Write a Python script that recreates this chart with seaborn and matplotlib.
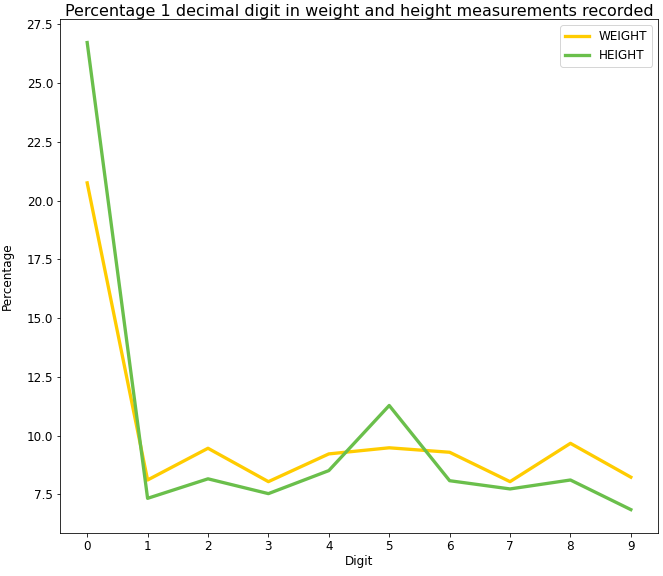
import numpy as np
import pandas as pd
import matplotlib
matplotlib.use("Agg")
import matplotlib.pyplot as plt
import seaborn as sns

digits = list(range(10))
weight_pct = [20.75, 8.11, 9.46, 8.04, 9.22, 9.48, 9.29, 8.04, 9.67, 8.23]
height_pct = [26.72, 7.33, 8.16, 7.53, 8.51, 11.28, 8.08, 7.73, 8.11, 6.85]
series_names = ["WEIGHT", "HEIGHT"]
series_colors = ["#ffcc00", "#6abf4b"]

df = pd.DataFrame({
    "Digit": digits * 2,
    "Percentage": weight_pct + height_pct,
    "Measure": [series_names[0]] * 10 + [series_names[1]] * 10,
})

plt.rcParams["font.size"] = 12

fig = plt.figure(figsize=(663 / 72, 576 / 72), dpi=72)
ax = fig.add_axes([0.0905, 0.0747, 0.902, 0.892])

sns.lineplot(data=df, x="Digit", y="Percentage", hue="Measure",
             palette=dict(zip(series_names, series_colors)), linewidth=3.3, ax=ax)

ax.set_xticks(digits)
ax.set_yticks(np.arange(7.5, 27.6, 2.5))
ax.set_title("Percentage 1 decimal digit in weight and height measurements recorded",
             fontsize=16, pad=3)
ax.set_ylabel("Percentage")
ax.yaxis.set_label_coords(-0.077, 0.5)
ax.set_xlabel("Digit", labelpad=2)
ax.legend(title=None, loc="upper right")

fig.savefig("out.png", dpi=72)
